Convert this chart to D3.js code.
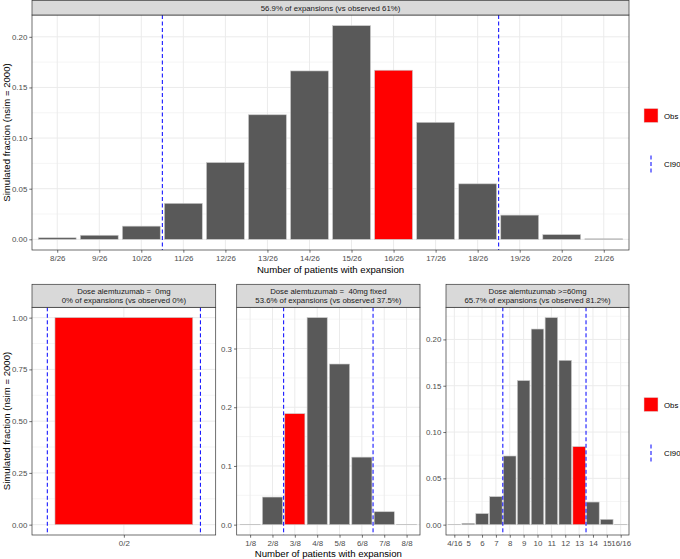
<!DOCTYPE html>
<html>
<head>
<meta charset="utf-8">
<script src="https://cdn.jsdelivr.net/npm/d3@7"></script>
<style>
  body { margin: 0; background: #fff; }
  text { font-family: "Liberation Sans", Arial, sans-serif; white-space: pre; }
</style>
</head>
<body>
<svg id="chart" width="680" height="559"></svg>
<script>
// overall panel
const topLabels = ["8/26","9/26","10/26","11/26","12/26","13/26","14/26","15/26","16/26","17/26","18/26","19/26","20/26","21/26"];
const topCounts = [8,9,10,11,12,13,14,15,16,17,18,19,20,21];
const topFrac = [0.0015,0.004,0.013,0.0355,0.0758,0.123,0.1663,0.211,0.167,0.1155,0.0548,0.0239,0.0046,0.0005];
const topObs = 16;
const topCI = [10.5, 18.5];
const topStrip = ["56.9% of expansions (vs observed 61%)"];
const topYTicks = [0, 0.05, 0.10, 0.15, 0.20];

// dose 0mg
const dose0Labels = ["0/2"];
const dose0Counts = [0];
const dose0Frac = [1.0];
const dose0Obs = 0;
const dose0CI = [-0.5, 0.5];
const dose0Strip = ["Dose alemtuzumab =  0mg", "0% of expansions (vs observed 0%)"];
const dose0YTicks = [0, 0.25, 0.50, 0.75, 1.00];

// dose 40mg fixed
const dose40Labels = ["1/8","2/8","3/8","4/8","5/8","6/8","7/8","8/8"];
const dose40Counts = [1,2,3,4,5,6,7,8];
const dose40Frac = [0.0005,0.047,0.189,0.3526,0.2736,0.115,0.022,0.0005];
const dose40Obs = 3;
const dose40CI = [2.5, 6.5];
const dose40Strip = ["Dose alemtuzumab =  40mg fixed", "53.6% of expansions (vs observed 37.5%)"];
const dose40YTicks = [0, 0.1, 0.2, 0.3];

// dose >=60mg
const dose60Labels = ["4/16","5","6","7","8","9","10","11","12","13","14","15","16/16"];
const dose60Counts = [4,5,6,7,8,9,10,11,12,13,14,15,16];
const dose60Frac = [0.0003,0.0014,0.0119,0.0302,0.0741,0.1555,0.2112,0.2235,0.1774,0.0842,0.0244,0.0057,0.0003];
const dose60Obs = 13;
const dose60CI = [7.5, 13.5];
const dose60Strip = ["Dose alemtuzumab >=60mg", "65.7% of expansions (vs observed 81.2%)"];
const dose60YTicks = [0, 0.05, 0.10, 0.15, 0.20];

const svg = d3.select("#chart");

function drawPanel(p) {
  const g = svg.append("g");
  const maxV = d3.max(p.frac);
  const y = d3.scaleLinear()
              .domain([-0.05 * maxV, 1.05 * maxV])
              .range([p.bottom, p.plotTop]);
  const x = d3.scalePoint()
              .domain(p.counts)
              .range([p.x0, p.x1])
              .padding(0.6);
  const step = x.step();

  // grid
  const d = p.yTicks[1] - p.yTicks[0];
  const minor = p.yTicks.map(a => a + d / 2).filter(v => v < y.domain()[1]);
  g.selectAll(".minor").data(minor)
    .enter().append("line")
    .attr("x1", p.x0).attr("x2", p.x1)
    .attr("y1", v => y(v)).attr("y2", v => y(v))
    .attr("stroke", "#ebebeb").attr("stroke-width", 0.5);
  g.selectAll(".major").data(p.yTicks)
    .enter().append("line")
    .attr("x1", p.x0).attr("x2", p.x1)
    .attr("y1", v => y(v)).attr("y2", v => y(v))
    .attr("stroke", "#ebebeb").attr("stroke-width", 1);
  g.selectAll(".vgrid").data(p.counts)
    .enter().append("line")
    .attr("x1", c => x(c)).attr("x2", c => x(c))
    .attr("y1", p.plotTop).attr("y2", p.bottom)
    .attr("stroke", "#ebebeb").attr("stroke-width", 1);

  // bars
  const rows = p.counts.map((c, i) => ({c: c, v: p.frac[i]}));
  g.selectAll(".bar").data(rows)
    .enter().append("rect")
    .attr("x", r => x(r.c) - 0.45 * step)
    .attr("width", 0.9 * step)
    .attr("y", r => y(r.v))
    .attr("height", r => Math.max(0.01, y(0) - y(r.v)))
    .attr("fill", r => r.c === p.obs ? "#ff0000" : "#595959")
    .attr("stroke", "#c8c8c8").attr("stroke-width", 0.6);

  // CI90 lines
  g.selectAll(".ci").data(p.ci)
    .enter().append("line")
    .attr("x1", v => x(p.counts[0]) + (v - p.counts[0]) * step)
    .attr("x2", v => x(p.counts[0]) + (v - p.counts[0]) * step)
    .attr("y1", p.plotTop).attr("y2", p.bottom)
    .attr("stroke", "#0000ff").attr("stroke-width", 1)
    .attr("stroke-dasharray", "4,2.5");

  // border
  g.append("rect")
    .attr("x", p.x0).attr("y", p.plotTop)
    .attr("width", p.x1 - p.x0).attr("height", p.bottom - p.plotTop)
    .attr("fill", "none").attr("stroke", "#333").attr("stroke-width", 0.7);

  // strip
  g.append("rect")
    .attr("x", p.x0).attr("y", p.stripTop)
    .attr("width", p.x1 - p.x0).attr("height", p.plotTop - p.stripTop)
    .attr("fill", "#d9d9d9").attr("stroke", "#333").attr("stroke-width", 0.7);
  const sh = p.plotTop - p.stripTop;
  const n = p.strip.length;
  g.selectAll(".strip").data(p.strip)
    .enter().append("text")
    .attr("x", (p.x0 + p.x1) / 2)
    .attr("y", (s, i) => p.stripTop + sh / 2 + (i - (n - 1) / 2) * 8.4 + 2.8)
    .attr("text-anchor", "middle")
    .attr("font-size", 7.8)
    .attr("fill", "#1a1a1a")
    .text(s => s);

  // axes
  const yAxis = d3.axisLeft(y).tickValues(p.yTicks).tickFormat(d3.format(p.yFmt))
                  .tickSize(2.7).tickPadding(2);
  const ya = g.append("g").attr("transform", "translate(" + p.x0 + ",0)").call(yAxis);
  const xAxis = d3.axisBottom(x).tickFormat((c, i) => p.labels[i])
                  .tickSize(2.7).tickPadding(2.2);
  const xa = g.append("g").attr("transform", "translate(0," + p.bottom + ")").call(xAxis);
  [ya, xa].forEach(a => {
    a.select(".domain").remove();
    a.selectAll(".tick line").attr("stroke", "#333").attr("stroke-width", 0.7);
    a.selectAll(".tick text").attr("fill", "#4d4d4d").attr("font-size", 7.9)
      .attr("font-family", "Liberation Sans, Arial, sans-serif");
  });
}

drawPanel({x0: 32, x1: 629, stripTop: 0.5, plotTop: 15, bottom: 250,
  labels: topLabels, counts: topCounts, frac: topFrac, obs: topObs, ci: topCI,
  strip: topStrip, yTicks: topYTicks, yFmt: ".2f"});
drawPanel({x0: 32, x1: 215.7, stripTop: 284.3, plotTop: 307.3, bottom: 535,
  labels: dose0Labels, counts: dose0Counts, frac: dose0Frac, obs: dose0Obs, ci: dose0CI,
  strip: dose0Strip, yTicks: dose0YTicks, yFmt: ".2f"});
drawPanel({x0: 236.7, x1: 420, stripTop: 284.3, plotTop: 307.3, bottom: 535,
  labels: dose40Labels, counts: dose40Counts, frac: dose40Frac, obs: dose40Obs, ci: dose40CI,
  strip: dose40Strip, yTicks: dose40YTicks, yFmt: ".1f"});
drawPanel({x0: 446, x1: 629, stripTop: 284.3, plotTop: 307.3, bottom: 535,
  labels: dose60Labels, counts: dose60Counts, frac: dose60Frac, obs: dose60Obs, ci: dose60CI,
  strip: dose60Strip, yTicks: dose60YTicks, yFmt: ".2f"});

// axis titles
function xTitle(cx, yy) {
  svg.append("text").attr("x", cx).attr("y", yy).attr("text-anchor", "middle")
     .attr("font-size", 9.6).attr("fill", "#000").text("Number of patients with expansion");
}
function yTitle(cy) {
  svg.append("text").attr("transform", "translate(10," + cy + ") rotate(-90)")
     .attr("text-anchor", "middle").attr("font-size", 9.6).attr("fill", "#000")
     .text("Simulated fraction (nsim = 2000)");
}
xTitle(330.5, 272.7);
xTitle(328.3, 556.5);
yTitle(132.5);
yTitle(421);

// legends
function legend(top) {
  const g = svg.append("g");
  g.append("rect").attr("x", 644).attr("y", top).attr("width", 14).attr("height", 14)
   .attr("fill", "#ff0000").attr("stroke", "#e0e0e0").attr("stroke-width", 0.5);
  g.append("text").attr("x", 664).attr("y", top + 10).attr("font-size", 7.8).text("Obs");
  g.append("line").attr("x1", 651).attr("x2", 651).attr("y1", top + 47).attr("y2", top + 64)
   .attr("stroke", "#0000ff").attr("stroke-width", 1).attr("stroke-dasharray", "4,2.5");
  g.append("text").attr("x", 664).attr("y", top + 58.5).attr("font-size", 7.8).text("CI90");
}
legend(108.5);
legend(397.5);
</script>
</body>
</html>
